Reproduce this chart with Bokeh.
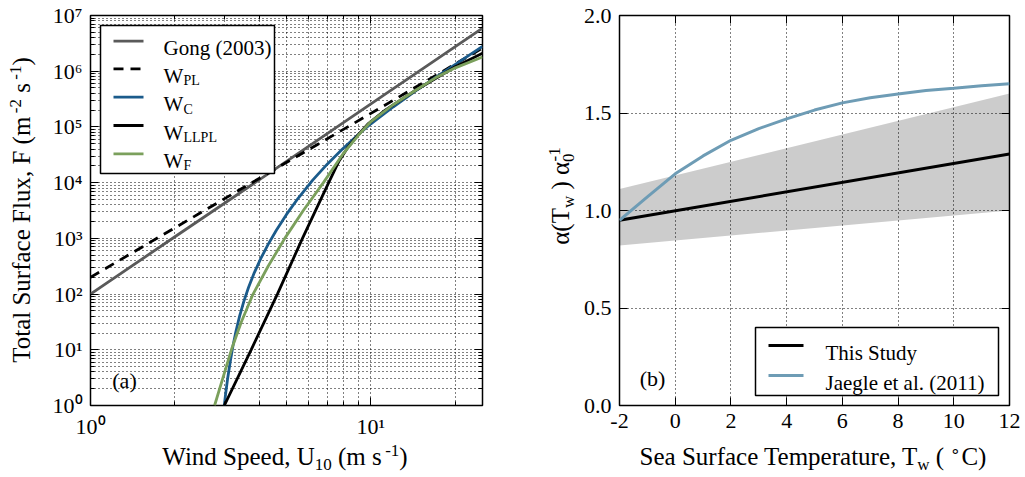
import math
from bokeh.plotting import figure
from bokeh.layouts import row, column
from bokeh.models import FixedTicker, LogAxis, LinearAxis, Label, CustomJSTickFormatter, Div
from bokeh.embed import file_html
from bokeh.resources import INLINE

FONT = "Liberation Serif"

# ---------------- Panel (a): total surface flux vs wind speed ----------------
gong_u = [1.0, 2.0, 5.0, 10.0, 25.0]
gong_f = [1.0e2, 1.07e3, 2.4e4, 2.6e5, 5.9e6]

wpl_u = [1.0, 2.0, 4.5, 10.0, 25.0]
wpl_f = [2.0e2, 1.55e3, 1.69e4, 1.75e5, 2.6e6]

wc_u = [3.0, 3.03, 3.08, 3.15, 3.22, 3.30, 3.40, 3.52, 3.66, 3.84, 4.05, 4.30, 4.60,
        5.0, 5.5, 6.2, 7.0, 7.9, 9.0, 10.0, 12.0, 14.4, 17.0, 20.0, 25.0]
wc_f = [1.0, 1.55, 2.92, 6.1, 11.6, 21.3, 39.9, 73.1, 131.5, 243.0, 437.0, 780.0, 1.40e3,
        2.69e3, 5.24e3, 1.11e4, 2.17e4, 3.97e4, 7.23e4, 1.14e5, 2.28e5, 4.39e5, 7.71e5, 1.33e6, 2.78e6]

wllpl_u = [3.0, 3.74, 4.64, 5.7, 7.07, 7.7, 8.3, 9.0, 9.8, 11.25, 14.4, 20.0, 25.0]
wllpl_f = [1.0, 10.0, 100.0, 1.0e3, 1.0e4, 2.45e4, 4.4e4, 7.2e4, 1.15e5, 2.0e5, 4.5e5, 1.2e6, 2.1e6]

wf_u = [2.77, 3.18, 3.45, 3.80, 4.30, 4.93, 5.74, 6.77, 7.96, 9.0, 10.0, 12.0, 14.4, 17.0, 20.0, 25.0]
wf_f = [1.0, 10.0, 31.6, 100.0, 316.0, 1.0e3, 3.16e3, 1.0e4, 3.3e4, 7.0e4, 1.25e5, 2.5e5, 4.5e5,
        7.6e5, 1.15e6, 1.8e6]

xa_ticks = [1, 10]
xa_minor = [2, 3, 4, 5, 6, 7, 8, 9, 20]
ya_ticks = [10 ** k for k in range(8)]
ya_minor = [m * 10 ** k for k in range(7) for m in range(2, 10)]

legend_a = ["Gong (2003)", "W", "W", "W", "W"]
legend_a_sub = ["", "PL", "C", "LLPL", "F"]

# ---------------- Panel (b): alpha(Tw)/alpha0 vs SST ----------------
sst = [-2, -1, 0, 1, 2, 3, 4, 5, 6, 7, 8, 9, 10, 11, 12]
jaegle = [0.95, 1.07, 1.188, 1.28, 1.36, 1.42, 1.47, 1.515, 1.552, 1.578, 1.598, 1.615, 1.627, 1.64, 1.65]

study_t = [-2, 12]
study = [0.95, 1.29]

band_t = [-2, 12]
band_lo = [0.82, 1.00]
band_hi = [1.11, 1.60]

xb_ticks = [-2, 0, 2, 4, 6, 8, 10, 12]
yb_ticks = [0.0, 0.5, 1.0, 1.5, 2.0]

legend_b = ["This Study", "Jaegle et al. (2011)"]

# ---------------- colours ----------------
C_GONG = "#5a5a5a"
C_WC = "#1b5b8b"
C_WF = "#7ba05c"
C_BLACK = "#000000"
C_JAEGLE = "#6e9cb5"

# ---------------- layout (page pixels, page origin at 0,0) ----------------
HF = 446            # figure height (0 .. 446)
HX = 31             # x-title row height (446 .. 477)
YA_W = 38           # left y-title column (0 .. 38)
P1_W = 470          # 38 .. 508
YB_W = 69           # 508 .. 577
P2_W = 448          # 577 .. 1025
XA_W = 564          # x-title (a) 0 .. 564
XB_W = 461          # x-title (b) 564 .. 1025
A_L, A_R, A_T, A_B = 90, 482, 15, 405
B_L, B_R, B_T, B_B = 619, 1009, 15, 405
XA_MAX = 25.0


def a_pt(px, py):
    x = 10 ** ((px - A_L) / (A_R - A_L) * math.log10(XA_MAX))
    y = 10 ** ((A_B - py) / (A_B - A_T) * 7)
    return x, y


def b_pt(px, py):
    x = -2 + (px - B_L) / (B_R - B_L) * 14
    y = (B_B - py) / (B_B - B_T) * 2
    return x, y


def style_axis(ax, ticker, show, fmt=None):
    ax.ticker = ticker
    ax.axis_line_color = None
    ax.major_tick_in = 8
    ax.major_tick_out = 0
    ax.minor_tick_in = 4
    ax.minor_tick_out = 0
    ax.major_tick_line_color = "black"
    ax.minor_tick_line_color = "black"
    ax.major_tick_line_width = 1
    ax.minor_tick_line_width = 1
    if fmt is not None:
        ax.formatter = fmt
    if show:
        ax.major_label_text_font = FONT
        ax.major_label_text_font_size = "22px"
        ax.major_label_text_color = "black"
        ax.major_label_standoff = 8
    else:
        ax.major_label_text_font_size = "1px"
        ax.major_label_text_alpha = 0.0
        ax.major_label_standoff = 0


def style_grid(g, ticker):
    g.ticker = ticker
    g.grid_line_color = "black"
    g.grid_line_dash = "1 3"
    g.grid_line_width = 1
    g.minor_grid_line_color = "black"
    g.minor_grid_line_dash = "1 3"
    g.minor_grid_line_width = 1


def lab(p, x, y, text, size, align="left", baseline="middle", xo=0, yo=0):
    p.add_layout(Label(x=x, y=y, text=text, text_font=FONT, text_font_size=size,
                       text_align=align, text_baseline=baseline,
                       x_offset=xo, y_offset=yo, text_color="black"))


def pow_fmt():
    return CustomJSTickFormatter(code="""
const s = ['\u2070','\u00b9','\u00b2','\u00b3','\u2074','\u2075','\u2076','\u2077','\u2078','\u2079'];
const e = Math.round(Math.log10(tick));
return '10' + s[e];
""")


SUB = "font-size:17px;vertical-align:-5px;line-height:0"
SUP = "font-size:17px;vertical-align:9px;line-height:0"
TXT = "font-family:'Liberation Serif';font-size:25px;color:#000;white-space:nowrap"


def xtitle(html, w, pad_left=0):
    inner = ('<div style="box-sizing:border-box;width:%dpx;height:%dpx;padding-left:%dpx;'
             'text-align:center;line-height:21px;%s">%s</div>' % (w, HX, pad_left, TXT, html))
    return Div(text=inner, width=w, height=HX, margin=0)


def ytitle(html, w, pad_left=0, pad_right=0, pad_bottom=0):
    inner = ('<div style="box-sizing:border-box;width:%dpx;height:%dpx;display:flex;'
             'align-items:center;justify-content:center;padding-left:%dpx;padding-right:%dpx;'
             'padding-bottom:%dpx;">'
             '<div style="transform:rotate(-90deg);line-height:28px;%s">%s</div></div>'
             % (w, HF, pad_left, pad_right, pad_bottom, TXT, html))
    return Div(text=inner, width=w, height=HF, margin=0)


# ================= Figure (a) =================
p1 = figure(width=P1_W, height=HF, x_axis_type="log", y_axis_type="log",
            x_range=(1, XA_MAX), y_range=(1, 1e7),
            output_backend="svg", toolbar_location=None,
            min_border_left=A_L - YA_W, min_border_right=(YA_W + P1_W) - A_R,
            min_border_top=A_T, min_border_bottom=HF - A_B)
p1.outline_line_color = "black"
p1.outline_line_width = 1.5
p1.background_fill_color = "white"
p1.border_fill_color = "white"

xt_a = FixedTicker(ticks=xa_ticks, minor_ticks=xa_minor)
yt_a = FixedTicker(ticks=ya_ticks, minor_ticks=ya_minor)
style_axis(p1.xaxis[0], xt_a, True, pow_fmt())
style_axis(p1.yaxis[0], yt_a, True, pow_fmt())
ax_r = LogAxis()
style_axis(ax_r, FixedTicker(ticks=ya_ticks, minor_ticks=ya_minor), False)
p1.add_layout(ax_r, "right")
ax_t = LogAxis()
style_axis(ax_t, FixedTicker(ticks=xa_ticks, minor_ticks=xa_minor), False)
p1.add_layout(ax_t, "above")
style_grid(p1.xgrid[0], xt_a)
style_grid(p1.ygrid[0], yt_a)

LW = 2.8
p1.line(gong_u, gong_f, line_color=C_GONG, line_width=LW)
p1.line(wpl_u, wpl_f, line_color=C_BLACK, line_width=LW, line_dash="10 7")
p1.line(wc_u, wc_f, line_color=C_WC, line_width=LW)
p1.line(wllpl_u, wllpl_f, line_color=C_BLACK, line_width=LW)
p1.line(wf_u, wf_f, line_color=C_WF, line_width=LW)

# legend (a)
bx0, by0 = a_pt(100, 25)
bx1, by1 = a_pt(274, 173)
p1.quad(left=[bx0], right=[bx1], top=[by0], bottom=[by1], fill_color="white",
        line_color="black", line_width=1.5)
rows_a = [40.7, 68.3, 96.7, 125.0, 153.3]
styles_a = [(C_GONG, "solid"), (C_BLACK, "10 7"), (C_WC, "solid"), (C_BLACK, "solid"), (C_WF, "solid")]
for r, (col, dash), txt, sub in zip(rows_a, styles_a, legend_a, legend_a_sub):
    sx0, sy = a_pt(113, r)
    sx1, _ = a_pt(143, r)
    p1.line([sx0, sx1], [sy, sy], line_color=col, line_width=LW, line_dash=dash)
    tx, ty = a_pt(163, r + 7)
    lab(p1, tx, ty, txt, "21px", baseline="alphabetic")
    if sub:
        lab(p1, tx, ty, sub, "14px", baseline="alphabetic", xo=20, yo=-5)

x, y = a_pt(124, 380)
lab(p1, x, y, "(a)", "22px", align="center")

# ================= Figure (b) =================
p2_left = YA_W + P1_W + YB_W
p2 = figure(width=P2_W, height=HF, x_range=(-2, 12), y_range=(0, 2),
            output_backend="svg", toolbar_location=None,
            min_border_left=B_L - p2_left, min_border_right=(p2_left + P2_W) - B_R,
            min_border_top=B_T, min_border_bottom=HF - B_B)
p2.outline_line_color = "black"
p2.outline_line_width = 1.5
p2.background_fill_color = "white"
p2.border_fill_color = "white"

xt_b = FixedTicker(ticks=xb_ticks, minor_ticks=[])
yt_b = FixedTicker(ticks=yb_ticks, minor_ticks=[])
style_axis(p2.xaxis[0], xt_b, True)
style_axis(p2.yaxis[0], yt_b, True)
p2.yaxis[0].major_label_overrides = {v: "%.1f" % v for v in yb_ticks}
p2.xaxis[0].major_label_overrides = {v: "%d" % v for v in xb_ticks}
bx_r = LinearAxis()
style_axis(bx_r, FixedTicker(ticks=yb_ticks, minor_ticks=[]), False)
p2.add_layout(bx_r, "right")
bx_t = LinearAxis()
style_axis(bx_t, FixedTicker(ticks=xb_ticks, minor_ticks=[]), False)
p2.add_layout(bx_t, "above")
style_grid(p2.xgrid[0], xt_b)
style_grid(p2.ygrid[0], yt_b)

p2.varea(x=band_t, y1=band_lo, y2=band_hi, fill_color="black", fill_alpha=0.2)
p2.line(study_t, study, line_color=C_BLACK, line_width=3)
p2.line(sst, jaegle, line_color=C_JAEGLE, line_width=3)

# legend (b)
bx0, by0 = b_pt(755, 327)
bx1, by1 = b_pt(998, 395)
p2.quad(left=[bx0], right=[bx1], top=[by0], bottom=[by1], fill_color="white",
        line_color="black", line_width=1.5)
for r, col, txt in zip([345, 375], [C_BLACK, C_JAEGLE], legend_b):
    sx0, sy = b_pt(768, r)
    sx1, _ = b_pt(803, r)
    p2.line([sx0, sx1], [sy, sy], line_color=col, line_width=3)
    tx, ty = b_pt(825, r + 7)
    lab(p2, tx, ty, txt, "21px", baseline="alphabetic")

x, y = b_pt(652, 378)
lab(p2, x, y, "(b)", "22px", align="center")

# ================= axis titles (HTML text) =================
ya_div = ytitle('Total Surface Flux, F (m<sup style="%s">&thinsp;-2</sup> s<sup style="%s">&thinsp;-1</sup>)'
                % (SUP, SUP), YA_W, pad_left=5, pad_bottom=27)
yb_div = ytitle('&alpha;(T<sub style="%s">w</sub> ) &alpha;<sub style="%s">0</sub>'
                '<sup style="%s;margin-left:-8px">-1</sup>'
                % (SUB, SUB, SUP), YB_W, pad_left=36, pad_bottom=54)
xa_div = xtitle('Wind Speed, U<sub style="%s">10</sub> (m s<sup style="%s">&thinsp;-1</sup>)'
                % (SUB, SUP), XA_W, pad_left=6)
xb_div = xtitle('Sea Surface Temperature, T<sub style="%s">w</sub> ( <sup style="%s">&#8728;</sup>C)'
                % (SUB, SUP), XB_W, pad_left=37)

layout = column(row(ya_div, p1, yb_div, p2), row(xa_div, xb_div))
open("out.html", "w").write(file_html(layout, INLINE))
